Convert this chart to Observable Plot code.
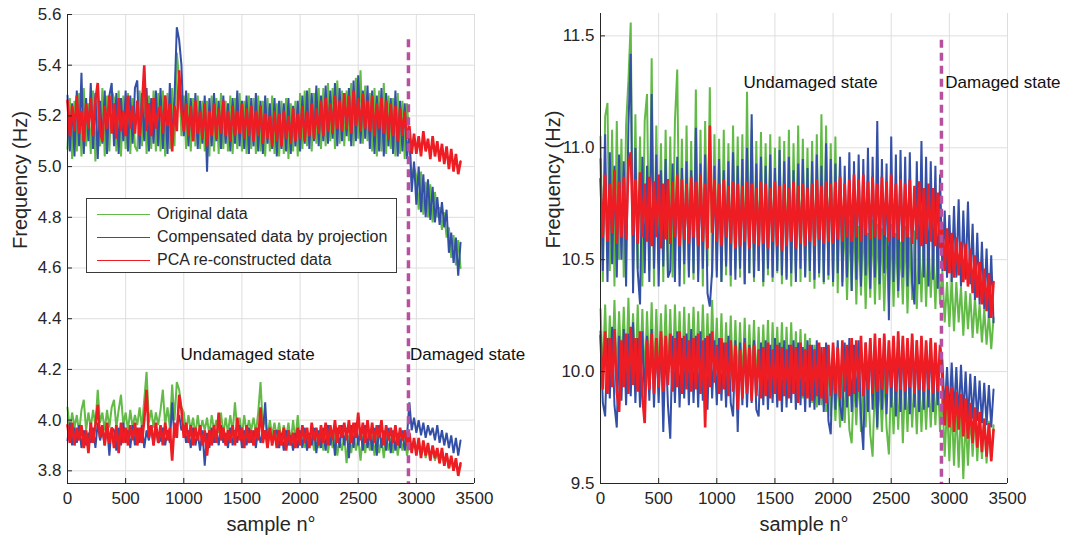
<!DOCTYPE html>
<html><head><meta charset="utf-8">
<script src="https://cdn.jsdelivr.net/npm/d3@7"></script>
<script src="https://cdn.jsdelivr.net/npm/@observablehq/plot@0.6"></script>
<style>
body{margin:0;background:#fff;}
#wrap{position:relative;width:1066px;height:541px;display:flex;font-family:"Liberation Sans",Arial,sans-serif;}
#wrap svg{display:block;}
#legend{position:absolute;left:86px;top:198px;width:309px;height:73px;border:1px solid #3a3a3a;background:#fff;font-size:16px;color:#262626;}
.row{position:absolute;left:0;height:23px;display:flex;align-items:center;white-space:nowrap;}
.sw{display:inline-block;width:53px;height:0;border-top:1.5px solid;margin-left:10px;margin-right:7px;}
</style></head><body><div id="wrap"></div>
<script>
// ---------- data (sample spacing between stored points) ----------
const sampleStep = 20;
const xTicks = [0,500,1000,1500,2000,2500,3000,3500];
const leftYTicks = [3.8,4,4.2,4.4,4.6,4.8,5,5.2,5.4,5.6];
const rightYTicks = [9.5,10,10.5,11,11.5];
const seriesNames = ["Original data","Compensated data by projection","PCA re-constructed data"];
const damageStart = 2932;

// Left panel, upper mode
const leftUpperGreen = [
5.07,5.27,5.03,5.26,5.06,5.29,5.04,5.31,5.08,5.25,
5.05,5.30,5.02,5.27,5.08,5.31,5.04,5.28,5.06,5.30,
5.27,5.06,5.30,5.04,5.28,5.07,5.29,5.05,5.27,5.08,
5.06,5.30,5.08,5.32,5.05,5.28,5.07,5.30,5.06,5.29,
5.06,5.30,5.04,5.29,5.07,5.31,5.08,5.45,5.35,5.12,
5.28,5.07,5.29,5.06,5.27,5.08,5.28,5.07,5.26,5.06,
5.26,5.04,5.28,5.06,5.27,5.05,5.29,5.07,5.26,5.06,
5.28,5.05,5.27,5.07,5.29,5.06,5.26,5.05,5.28,5.07,
5.27,5.05,5.28,5.06,5.26,5.04,5.27,5.06,5.28,5.05,
5.25,5.04,5.26,5.05,5.27,5.03,5.25,5.06,5.26,5.04,
5.29,5.07,5.30,5.08,5.31,5.06,5.29,5.09,5.31,5.07,
5.31,5.08,5.33,5.10,5.31,5.07,5.34,5.09,5.30,5.08,
5.30,5.10,5.33,5.08,5.35,5.11,5.38,5.09,5.32,5.10,
5.29,5.06,5.31,5.04,5.30,5.06,5.33,5.05,5.28,5.07,
5.27,5.04,5.29,5.05,5.26,5.03,5.25,5.10,4.95,5.00,
4.96,4.83,4.98,4.81,4.94,4.80,4.93,4.78,4.90,4.80,
4.84,4.75,4.82,4.72,4.76,4.64,4.73,4.61,4.71,4.60];
const leftUpperBlue = [
5.28,5.06,5.25,5.04,5.30,5.08,5.37,5.05,5.27,5.10,
5.33,5.07,5.29,5.03,5.26,5.09,5.30,5.05,5.28,5.33,
5.08,5.29,5.05,5.27,5.10,5.30,5.06,5.28,5.09,5.31,
5.34,5.07,5.29,5.10,5.31,5.06,5.27,5.09,5.30,5.08,
5.31,5.07,5.28,5.05,5.33,5.10,5.27,5.55,5.50,5.40,
5.12,5.30,5.08,5.27,5.10,5.29,5.07,5.26,5.09,5.28,
4.98,5.27,5.08,5.29,5.10,5.26,5.07,5.28,5.09,5.25,
5.06,5.27,5.09,5.30,5.08,5.26,5.07,5.28,5.05,5.27,
5.08,5.29,5.06,5.26,5.05,5.28,5.09,5.25,5.07,5.27,
5.04,5.26,5.07,5.25,5.06,5.27,5.05,5.24,5.08,5.26,
5.06,5.28,5.09,5.30,5.07,5.29,5.10,5.32,5.08,5.28,
5.10,5.32,5.09,5.30,5.11,5.33,5.08,5.31,5.10,5.29,
5.12,5.31,5.08,5.34,5.10,5.36,5.09,5.30,5.11,5.32,
5.07,5.30,5.05,5.28,5.06,5.31,5.04,5.29,5.08,5.27,
5.05,5.30,5.04,5.26,5.06,5.25,5.03,5.14,4.90,5.02,
4.85,5.00,4.82,4.97,4.80,4.95,4.79,4.92,4.78,4.88,
4.77,4.86,4.76,4.83,4.66,4.74,4.62,4.72,4.57,4.70];
const leftUpperRed = [
5.26,5.12,5.24,5.14,5.28,5.13,5.22,5.10,5.25,5.15,
5.27,5.12,5.26,5.33,5.14,5.10,5.24,5.15,5.28,5.13,
5.25,5.11,5.27,5.14,5.22,5.12,5.28,5.15,5.24,5.13,
5.26,5.12,5.23,5.40,5.14,5.25,5.12,5.27,5.15,5.22,
5.24,5.13,5.28,5.16,5.25,5.06,5.24,5.14,5.38,5.22,
5.14,5.25,5.12,5.24,5.10,5.26,5.13,5.22,5.11,5.25,
5.08,5.22,5.12,5.25,5.11,5.23,5.13,5.26,5.12,5.22,
5.10,5.24,5.12,5.22,5.13,5.25,5.11,5.23,5.12,5.24,
5.10,5.22,5.12,5.24,5.09,5.21,5.11,5.20,5.08,5.22,
5.10,5.21,5.08,5.22,5.11,5.20,5.09,5.23,5.10,5.21,
5.11,5.24,5.10,5.22,5.12,5.25,5.11,5.23,5.13,5.26,
5.12,5.27,5.14,5.25,5.13,5.28,5.15,5.26,5.14,5.29,
5.15,5.28,5.13,5.30,5.16,5.27,5.14,5.29,5.15,5.26,
5.14,5.28,5.12,5.25,5.15,5.27,5.13,5.26,5.11,5.25,
5.12,5.24,5.10,5.23,5.12,5.22,5.11,5.16,5.05,5.13,
5.05,5.12,5.04,5.14,5.06,5.11,5.03,5.12,5.04,5.10,
5.02,5.09,5.01,5.08,4.99,5.07,4.98,5.05,4.97,5.02];

// Left panel, lower mode
const leftLowerGreen = [
4.05,3.96,4.03,3.97,4.02,3.95,4.04,4.08,3.96,4.03,
3.97,4.04,3.98,4.12,3.99,4.03,3.96,4.04,3.97,4.05,
4.08,3.97,4.04,4.10,3.98,4.03,3.96,4.04,3.97,4.02,
3.98,4.05,3.97,4.08,4.19,3.99,4.04,3.97,4.03,3.98,
4.04,4.12,3.98,4.05,3.97,4.14,4.00,4.15,4.12,4.05,
4.03,3.95,4.02,3.96,4.01,3.94,4.02,3.95,4.00,3.96,
4.01,3.94,4.02,3.96,4.00,3.95,4.03,3.94,4.01,3.95,
4.02,3.95,4.07,3.96,4.01,3.94,4.02,3.95,4.00,3.96,
4.01,3.95,4.03,4.15,3.97,4.01,3.93,4.00,3.94,3.99,
3.93,3.99,3.92,3.98,3.93,3.99,3.91,4.00,3.92,4.02,
3.91,3.97,3.89,3.96,3.90,3.95,3.88,3.96,3.89,3.95,
3.88,3.95,3.87,3.94,3.89,3.95,3.86,3.93,3.88,3.94,
3.83,3.94,3.87,3.95,3.88,3.93,3.84,3.94,3.87,3.95,
3.88,3.94,3.86,3.95,3.87,3.93,3.85,3.94,3.88,3.93,
3.87,3.94,3.86,3.93,3.88,3.94,3.86,3.92,3.88,3.92,
3.87,3.92,3.86,3.91,3.85,3.90,3.85,3.89,3.84,3.88,
3.83,3.88,3.82,3.87,3.81,3.85,3.80,3.84,3.79,3.82];
const leftLowerBlue = [
3.92,3.99,3.90,3.97,3.91,3.98,3.89,3.96,3.90,3.95,
3.91,3.97,3.89,3.99,3.92,3.96,3.90,3.98,3.86,3.97,
3.96,3.88,3.97,3.90,3.99,3.91,3.96,3.89,3.98,3.90,
3.97,3.91,3.98,3.89,3.96,3.92,3.98,3.90,3.97,3.91,
3.92,3.97,3.90,3.96,3.91,4.07,3.93,3.98,4.02,3.96,
3.98,3.91,3.96,3.89,3.97,3.90,3.95,3.88,3.96,3.82,
3.95,3.89,3.97,3.91,3.96,3.90,3.98,3.91,3.95,3.89,
3.97,3.90,3.96,3.91,3.98,3.89,3.96,3.90,3.97,3.91,
3.96,3.89,3.97,3.91,3.95,4.07,3.90,3.96,3.91,3.95,
3.96,3.89,3.95,3.88,3.96,3.90,3.94,3.88,3.95,3.89,
3.96,3.89,3.97,3.88,3.95,3.90,3.97,3.87,3.96,3.89,
3.97,3.88,3.98,3.90,3.96,3.86,3.97,3.89,3.98,3.90,
3.97,3.85,3.98,3.89,3.99,3.90,3.97,3.88,3.98,3.89,
3.96,3.88,3.97,3.86,3.98,3.89,3.96,3.88,3.97,3.87,
3.96,3.88,3.95,3.89,3.96,3.88,3.94,4.07,3.96,4.01,
3.95,4.00,3.94,3.99,3.93,3.98,3.94,3.97,3.92,3.98,
3.91,3.96,3.90,3.95,3.89,3.94,3.87,3.93,3.86,3.92];
const leftLowerRed = [
3.98,3.91,3.99,3.90,3.97,3.92,3.98,3.89,3.96,3.87,
3.99,3.91,3.98,4.06,3.93,3.98,3.90,3.99,3.91,3.97,
3.89,3.98,3.87,3.99,3.91,3.97,3.90,3.98,3.92,3.99,
3.90,3.97,3.91,4.00,4.12,3.93,3.98,3.90,3.99,3.91,
3.98,3.90,3.99,3.92,3.97,3.84,3.99,3.93,4.10,4.04,
3.93,3.99,3.91,3.98,3.90,3.97,3.92,3.98,3.90,3.96,
3.86,3.96,3.90,3.98,3.91,4.03,3.92,3.97,3.90,3.96,
3.91,3.98,3.90,4.01,3.92,3.97,3.89,3.98,3.91,3.96,
3.90,3.97,3.92,4.05,3.91,3.96,3.89,3.97,3.90,3.96,
3.89,3.96,3.90,3.97,3.88,3.96,3.90,3.95,3.89,3.97,
3.90,3.98,3.91,3.97,3.89,3.99,3.92,3.97,3.90,3.98,
3.91,3.99,3.90,3.98,3.92,4.00,3.91,3.98,3.93,3.99,
3.92,4.00,3.91,3.99,3.93,4.03,3.92,3.99,3.91,4.00,
3.92,3.99,3.91,3.98,3.93,4.00,3.90,3.98,3.92,3.97,
3.91,3.98,3.90,3.97,3.92,3.96,3.90,3.95,3.87,3.93,
3.86,3.93,3.85,3.92,3.86,3.91,3.84,3.90,3.85,3.89,
3.83,3.89,3.82,3.87,3.81,3.86,3.80,3.85,3.78,3.83];

// Right panel, upper mode
const rightUpperGreen = [
11.05,10.40,11.14,11.20,10.45,11.08,10.38,11.12,10.50,11.04,
10.42,11.10,11.30,11.56,10.40,11.15,10.46,11.05,10.38,11.12,
11.24,10.45,11.40,10.38,11.10,10.48,11.02,10.40,11.08,10.44,
11.05,10.42,11.12,11.35,10.46,11.04,10.39,11.10,10.45,11.03,
10.41,11.26,10.44,11.08,10.38,11.12,10.47,11.27,10.42,11.06,
10.45,11.04,10.40,11.08,10.43,11.02,10.38,11.10,10.46,11.05,
10.42,11.06,10.39,11.25,10.44,11.08,10.40,11.03,10.45,11.07,
10.38,11.02,10.43,11.06,10.40,11.00,10.44,11.05,10.39,11.03,
10.42,11.08,10.38,11.02,10.44,11.10,10.40,11.04,10.43,11.00,
10.40,11.03,10.37,11.06,10.42,11.15,10.39,11.10,10.41,11.02,
10.38,11.05,10.35,10.95,10.40,10.70,10.32,10.68,10.36,10.72,
10.30,10.65,10.34,10.70,10.28,10.62,10.33,10.68,10.30,10.66,
10.32,10.64,10.27,10.60,10.31,10.66,10.29,10.62,10.33,10.58,
10.30,10.65,10.26,10.60,10.32,10.63,10.28,10.58,10.31,10.62,
10.29,10.60,10.33,10.56,10.28,10.58,10.30,10.45,10.22,10.40,
10.20,10.42,10.18,10.40,10.22,10.38,10.16,10.36,10.19,10.35,
10.15,10.33,10.17,10.30,10.13,10.28,10.12,10.26,10.10,10.24];
const rightUpperBlue = [
10.95,10.45,11.06,10.40,10.98,10.48,10.92,10.42,10.97,10.50,
10.94,10.38,11.10,11.42,10.35,11.00,10.45,10.30,10.96,10.44,
10.92,10.40,11.24,10.46,10.97,10.38,10.90,10.47,10.95,10.42,
10.45,10.93,10.40,10.96,10.38,10.91,10.48,10.94,10.42,10.90,
10.44,11.09,10.40,10.93,10.46,10.97,10.35,10.29,10.45,10.92,
10.42,10.95,10.40,10.90,10.47,10.94,10.43,10.98,10.41,10.92,
10.46,10.95,10.39,11.00,10.44,11.15,10.42,10.93,10.45,10.96,
10.40,10.92,10.46,10.97,10.42,10.91,10.45,10.99,10.43,10.94,
10.41,10.96,10.44,10.90,10.40,10.93,10.46,10.95,10.42,10.91,
10.45,10.94,10.41,10.97,10.44,10.92,10.40,11.02,10.43,10.95,
10.40,10.93,10.44,10.96,10.38,10.92,10.42,10.98,10.36,10.94,
10.41,10.97,10.38,10.95,10.43,11.00,10.37,10.96,10.42,11.12,
10.39,10.95,10.44,10.93,10.23,11.05,10.40,10.97,10.36,10.99,
10.42,10.96,10.38,10.98,10.40,10.30,10.94,10.39,11.03,10.42,
10.96,10.38,10.94,10.41,10.92,10.37,10.88,10.45,10.72,10.42,
10.70,10.40,10.74,10.42,10.77,10.38,10.72,10.41,10.76,10.39,
10.66,10.32,10.62,10.30,10.58,10.28,10.55,10.24,10.52,10.22];
const rightUpperRed = [
10.86,10.60,10.88,10.58,10.84,10.62,10.90,10.57,10.85,10.60,
10.87,10.59,10.92,10.98,10.61,10.86,10.57,10.89,10.60,10.84,
10.58,10.87,10.56,10.85,10.60,10.88,10.55,10.84,10.59,10.86,
10.57,10.85,10.60,10.88,10.56,10.86,10.59,10.84,10.57,10.87,
10.60,10.85,10.56,10.88,10.58,10.84,10.55,11.10,10.62,10.86,
10.58,10.84,10.56,10.86,10.60,10.83,10.57,10.85,10.55,10.84,
10.56,10.83,10.58,10.85,10.55,10.84,10.57,10.82,10.56,10.85,
10.57,10.84,10.55,10.82,10.58,10.85,10.56,10.83,10.54,10.84,
10.56,10.82,10.58,10.85,10.55,10.83,10.57,10.84,10.56,10.82,
10.58,10.84,10.56,10.86,10.59,10.83,10.57,10.85,10.58,10.84,
10.57,10.85,10.59,10.87,10.58,10.84,10.60,10.86,10.58,10.88,
10.60,10.86,10.58,10.88,10.61,10.85,10.59,10.87,10.60,10.84,
10.59,10.87,10.61,10.85,10.58,10.88,10.60,10.84,10.59,10.86,
10.58,10.84,10.60,10.86,10.57,10.83,10.59,10.85,10.56,10.82,
10.57,10.84,10.58,10.82,10.56,10.80,10.55,10.66,10.45,10.64,
10.44,10.62,10.42,10.60,10.43,10.58,10.40,10.57,10.38,10.55,
10.35,10.52,10.33,10.49,10.30,10.46,10.27,10.44,10.24,10.40];

// Right panel, lower mode
const rightLowerGreen = [
10.28,9.98,10.30,9.96,10.25,9.99,10.32,9.97,10.27,10.00,
10.29,9.97,10.33,9.99,10.26,9.96,10.30,9.98,10.28,9.95,
10.27,9.98,10.31,9.96,10.28,9.99,10.26,9.97,10.30,9.98,
10.28,9.96,10.30,9.99,10.27,9.97,10.29,9.95,10.26,9.98,
10.29,9.97,10.27,9.96,10.30,9.98,10.26,9.95,10.32,10.00,
10.24,9.95,10.26,9.93,10.22,9.96,10.25,9.94,10.23,9.95,
10.22,9.94,10.24,9.92,10.21,9.95,10.23,9.93,10.20,9.94,
10.21,9.93,10.23,9.91,10.22,9.94,10.20,9.92,10.22,9.93,
10.20,9.92,10.22,9.90,10.18,9.93,10.19,9.88,10.17,9.90,
10.15,9.86,10.12,9.84,10.10,9.85,10.08,9.82,10.05,9.80,
10.02,9.78,10.00,9.75,10.01,9.77,9.99,9.74,9.68,9.98,
9.76,10.00,9.73,9.98,9.75,9.99,9.72,9.62,9.97,9.74,
9.98,9.73,10.00,9.75,9.63,9.99,9.72,9.97,9.74,10.00,
9.68,9.98,9.73,10.00,9.75,9.97,9.72,9.99,9.73,9.96,
9.74,9.98,9.75,9.97,9.76,9.99,9.73,9.90,9.62,9.85,
9.60,9.86,9.58,9.84,9.57,9.83,9.52,9.80,9.58,9.82,
9.62,9.82,9.60,9.80,9.61,9.79,9.59,9.78,9.60,9.76];
const rightLowerBlue = [
10.18,9.86,9.80,10.15,9.88,10.20,9.85,9.75,10.16,9.87,
10.19,9.85,10.17,9.89,10.22,9.86,10.15,9.84,10.18,9.88,
10.16,9.87,10.19,9.84,10.15,9.86,10.17,9.73,10.14,9.85,
9.70,10.16,9.86,10.18,9.84,10.15,9.88,10.17,9.85,10.19,
9.86,10.16,9.84,10.18,9.87,10.15,9.83,10.17,9.88,10.14,
9.85,10.15,9.87,10.13,9.84,10.16,9.86,9.80,10.14,9.73,
10.13,9.85,10.15,9.84,10.12,9.86,10.14,9.83,9.80,10.13,
9.85,10.14,9.83,10.12,9.86,10.15,9.84,10.13,9.82,10.14,
9.84,10.12,9.86,10.14,9.83,10.13,9.85,10.11,9.82,10.14,
9.84,10.12,9.83,10.14,9.85,10.11,9.82,10.13,9.78,9.72,
10.12,9.83,10.14,9.85,9.78,10.13,9.84,10.15,9.82,10.12,
9.84,10.14,9.80,9.65,10.13,9.82,10.15,9.83,10.12,9.75,
10.14,9.83,10.16,9.81,10.13,9.84,10.15,9.80,10.14,9.82,
10.15,9.83,10.13,9.81,10.16,9.84,10.14,9.82,10.15,9.83,
10.13,9.84,10.14,9.82,10.12,9.85,10.11,10.05,9.82,10.02,
9.80,10.04,9.81,10.02,9.79,10.03,9.80,10.00,9.78,9.99,
9.79,9.98,9.78,9.96,9.77,9.95,9.76,9.94,9.75,9.92];
const rightLowerRed = [
10.16,9.92,10.18,9.90,10.15,9.93,10.19,9.91,9.82,10.14,
9.93,10.17,9.90,10.20,9.94,10.15,9.91,10.18,9.89,9.77,
10.14,9.92,10.17,9.90,10.15,9.93,10.18,9.91,10.16,9.94,
10.17,9.91,10.15,9.93,10.18,9.90,10.16,9.92,10.14,9.91,
10.15,9.92,10.17,9.90,10.14,9.75,10.16,9.93,10.18,9.95,
10.12,9.90,10.15,9.92,10.13,9.89,10.14,9.91,10.12,9.83,
10.10,9.88,10.13,9.90,10.11,9.87,10.12,9.89,10.10,9.88,
10.11,9.89,10.13,9.88,10.10,9.90,10.12,9.87,10.11,9.89,
10.10,9.88,10.12,9.90,10.11,9.86,10.13,9.89,10.10,9.88,
10.12,9.87,10.10,9.89,10.13,9.88,10.11,9.86,10.12,9.89,
10.13,9.90,10.11,9.88,10.14,9.91,10.12,9.89,10.15,9.90,
10.14,9.91,10.16,9.89,10.13,9.92,10.15,9.90,10.17,9.91,
10.15,9.92,10.17,9.90,10.14,9.93,10.16,9.91,10.18,9.92,
10.16,9.91,10.15,9.93,10.17,9.90,10.14,9.92,10.16,9.91,
10.14,9.92,10.15,9.90,10.13,9.91,10.12,9.96,9.76,9.94,
9.75,9.93,9.73,9.91,9.74,9.90,9.71,9.88,9.70,9.86,
9.68,9.84,9.66,9.82,9.64,9.79,9.62,9.77,9.60,9.74];

const leftNotes = [{x: 972, y: 4.26, text: "Undamaged state"}, {x: 2945, y: 4.26, text: "Damaged state"}];
const rightNotes = [{x: 1230, y: 11.29, text: "Undamaged state"}, {x: 2965, y: 11.29, text: "Damaged state"}];

// ---------- drawing ----------
const colors = ["#62bb46", "#3450a6", "#ee1d24"];
const widths = [2, 2, 2.6];
const dashColor = "#b6509f";
const textColor = "#262626";
const font = "'Liberation Sans', Arial, sans-serif";

function panel({yDomain, yTicks, groups, marginTop, marginLeft, marginRight, notes, dashTop}) {
  const lines = [];
  // draw order: all green, all blue, then red on top
  for (let k = 0; k < 3; k++) {
    for (const g of groups) {
      lines.push(Plot.line(g[k], {x: (d, i) => i * sampleStep, y: d => d, stroke: colors[k], strokeWidth: widths[k], strokeLinejoin: "bevel"}));
    }
  }
  return Plot.plot({
    width: 533, height: 541,
    marginTop, marginBottom: 58, marginLeft, marginRight,
    style: {fontFamily: font, fontSize: "17px", color: textColor, background: "white", overflow: "visible"},
    x: {domain: [0, 3500]},
    y: {domain: yDomain},
    marks: [
      Plot.gridX(xTicks, {stroke: "#dedede", strokeOpacity: 1}),
      Plot.gridY(yTicks, {stroke: "#dedede", strokeOpacity: 1}),
      ...lines,
      Plot.ruleX([damageStart], {y1: dashTop, y2: yDomain[0], stroke: dashColor, strokeWidth: 3.5, strokeDasharray: "8,5"}),
      Plot.ruleX([0], {stroke: textColor}),
      Plot.ruleY([yDomain[0]], {stroke: textColor}),
      Plot.axisX(xTicks, {tickSize: -5, tickPadding: 13, label: null, tickFormat: "d", fontSize: 17}),
      Plot.axisY(yTicks, {tickSize: -5, tickPadding: 11, label: null, fontSize: 17}),
      Plot.text(["Frequency (Hz)"], {frameAnchor: "left", rotate: -90, dx: -47, fontSize: 20, fill: textColor}),
      Plot.text(["sample n°"], {frameAnchor: "bottom", dy: 47, fontSize: 20, fill: textColor}),
      Plot.text(notes, {x: "x", y: "y", text: "text", textAnchor: "start", fontSize: 17, fill: "#111"})
    ]
  });
}

const wrap = document.getElementById("wrap");
wrap.appendChild(panel({
  yDomain: [3.75, 5.6], yTicks: leftYTicks, marginTop: 14, marginLeft: 67, marginRight: 59,
  groups: [[leftUpperGreen, leftUpperBlue, leftUpperRed], [leftLowerGreen, leftLowerBlue, leftLowerRed]],
  notes: leftNotes, dashTop: 5.5
}));
wrap.appendChild(panel({
  yDomain: [9.5, 11.6], yTicks: rightYTicks, marginTop: 13, marginLeft: 67, marginRight: 59,
  groups: [[rightUpperGreen, rightUpperBlue, rightUpperRed], [rightLowerGreen, rightLowerBlue, rightLowerRed]],
  notes: rightNotes, dashTop: 11.48
}));

// legend inside the left panel
const legend = document.createElement("div");
legend.id = "legend";
seriesNames.forEach((name, k) => {
  const row = document.createElement("div");
  row.className = "row";
  row.style.top = (3.5 + 23 * k) + "px";
  const sw = document.createElement("span");
  sw.className = "sw";
  sw.style.borderTopColor = colors[k];
  row.appendChild(sw);
  row.appendChild(document.createTextNode(name));
  legend.appendChild(row);
});
wrap.appendChild(legend);
</script></body></html>
